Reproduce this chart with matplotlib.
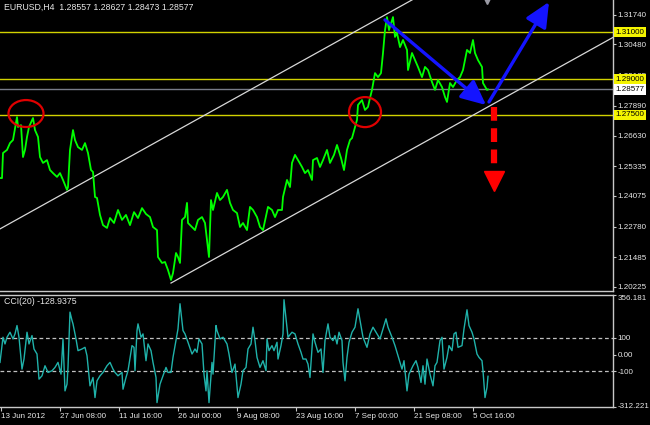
#!/usr/bin/env python3
"""
EURUSD H4 chart with price channel and CCI(20) panel, MetaTrader style
"""

import matplotlib
matplotlib.use('Agg')
import matplotlib.pyplot as plt
import numpy as np
from matplotlib.patches import Ellipse

plt.rcParams['font.family'] = ['Liberation Sans', 'DejaVu Sans']

# ---- data ----
price_bar = [0, 2, 3, 7, 10, 13, 17, 18, 21, 23, 25, 27, 29, 33, 35, 38, 40, 43, 47, 50,
             53, 57, 60, 63, 67, 68, 70, 73, 75, 78, 82, 85, 88, 91, 93, 95, 97, 100, 103, 107,
             110, 114, 118, 122, 126, 130, 134, 138, 142, 146, 150, 153, 157, 158, 162, 165, 168, 171, 173, 176,
             178, 180, 182, 185, 187, 188, 192, 195, 198, 202, 205, 207, 209, 211, 213, 217, 220, 223, 227, 230,
             233, 237, 240, 243, 247, 250, 253, 257, 260, 263, 268, 272, 275, 278, 282, 283, 287, 290, 292, 295,
             298, 302, 305, 308, 312, 313, 317, 320, 323, 327, 330, 334, 337, 341, 344, 347, 350, 352, 357, 358,
             362, 365, 368, 370, 372, 375, 378, 381, 383, 385, 387, 389, 393, 395, 397, 400, 403, 407, 408, 412,
             415, 418, 422, 425, 428, 432, 435, 438, 442, 445, 447, 450, 453, 457, 460, 463, 467, 470, 473, 475,
             478, 482, 483, 487, 488]
price_close = [1.2483, 1.2483, 1.2589, 1.2602, 1.2631, 1.2644, 1.2741, 1.2699, 1.2707, 1.2572,
               1.2602, 1.2657, 1.2699, 1.2737, 1.2686, 1.2657, 1.2572, 1.2547, 1.2559, 1.2517,
               1.2504, 1.2488, 1.2504, 1.2475, 1.2433, 1.2445, 1.2602, 1.2686, 1.2644, 1.2614,
               1.2602, 1.2631, 1.2589, 1.2517, 1.2509, 1.2403, 1.2399, 1.2327, 1.2284, 1.2272,
               1.2314, 1.2293, 1.2348, 1.2306, 1.2327, 1.2284, 1.2339, 1.2314, 1.2356, 1.2331,
               1.2318, 1.2276, 1.2263, 1.2149, 1.2124, 1.2128, 1.2094, 1.2052, 1.2081, 1.2166,
               1.2149, 1.2124, 1.2306, 1.2318, 1.2378, 1.2293, 1.2276, 1.2263, 1.2306, 1.2318,
               1.2293, 1.2221, 1.2149, 1.2390, 1.2348, 1.2420, 1.2390, 1.2403, 1.2433, 1.2378,
               1.2348, 1.2335, 1.2276, 1.2293, 1.2263, 1.2361, 1.2348, 1.2318, 1.2276, 1.2263,
               1.2361, 1.2348, 1.2318, 1.2348, 1.2348, 1.2403, 1.2475, 1.2445, 1.2547, 1.2581,
               1.2559, 1.2530, 1.2504, 1.2517, 1.2475, 1.2559, 1.2568, 1.2530, 1.2559, 1.2602,
               1.2547, 1.2581, 1.2623, 1.2568, 1.2517, 1.2602, 1.2644, 1.2652, 1.2729, 1.2792,
               1.2813, 1.2771, 1.2784, 1.2822, 1.2856, 1.2927, 1.2910, 1.2927, 1.3012, 1.3109,
               1.3164, 1.3109, 1.3164, 1.3080, 1.3097, 1.3037, 1.3067, 1.3025, 1.2940, 1.3012,
               1.2982, 1.2953, 1.2910, 1.2953, 1.2940, 1.2889, 1.2856, 1.2898, 1.2868, 1.2826,
               1.2805, 1.2885, 1.2868, 1.2898, 1.2910, 1.2940, 1.3025, 1.3012, 1.3067, 1.3012,
               1.2982, 1.2953, 1.2885, 1.2856, 1.28577]

cci_bar = [0, 3, 5, 7, 10, 13, 15, 17, 19, 22, 24, 27, 29, 32, 34, 37, 39, 42, 45, 48,
           52, 55, 58, 61, 63, 65, 67, 68, 70, 72, 73, 76, 78, 82, 85, 87, 90, 93, 95, 97,
           100, 103, 107, 110, 113, 115, 118, 122, 123, 126, 128, 132, 134, 135, 137, 138, 141, 143, 146, 148,
           151, 153, 156, 157, 160, 163, 166, 168, 171, 173, 176, 178, 180, 183, 185, 188, 192, 195, 197, 199,
           202, 204, 206, 207, 209, 212, 213, 216, 217, 220, 223, 227, 229, 232, 235, 238, 241, 243, 246, 248,
           251, 253, 255, 257, 260, 263, 266, 267, 269, 272, 274, 277, 278, 281, 283, 284, 287, 288, 292, 295,
           298, 301, 303, 306, 308, 310, 313, 315, 318, 321, 323, 325, 328, 330, 333, 335, 337, 339, 342, 343,
           345, 347, 349, 352, 355, 358, 361, 363, 367, 370, 373, 377, 380, 383, 386, 388, 392, 395, 398, 402,
           404, 406, 407, 409, 413, 416, 418, 421, 423, 425, 427, 430, 433, 435, 437, 440, 442, 444, 447, 449,
           452, 454, 456, 458, 462, 464, 467, 469, 472, 474, 477, 479, 482, 483, 485, 487, 488]
cci_value = [-46, 104, 64, 104, 134, 94, 124, 174, 104, -86, -26, 134, 64, 114, 34, 4, -146, -126, -66, -106,
             -96, -76, -46, -116, 94, -216, -176, -76, 254, 204, 184, 94, 24, 34, 44, -6, -186, -136, -256, -156,
             -126, -106, -66, -46, -86, -106, -126, -106, -206, -136, -96, 54, 44, -96, 144, 184, 104, 124, -36, 64,
             24, -46, -136, -286, -176, -126, -76, -106, -106, -16, 84, 154, 304, 144, 124, 74, 4, 34, 14, 94,
             64, -116, -216, -96, -286, -46, -116, 174, 144, 94, 104, 64, 4, -106, -56, -256, -176, -96, -76, 34,
             64, 164, 84, -16, -76, -36, -96, 94, 24, 54, 24, 74, -26, 54, 124, 328, 164, 104, 134, 124,
             64, 14, -26, -26, -56, -136, 124, 74, 14, 34, -106, 84, 184, 104, 84, 114, 64, 134, 84, -46,
             -156, -16, 74, 134, 164, 274, 174, 104, 44, 124, 164, 124, 94, 154, 214, 164, 104, 54, -6, -86,
             -36, -156, -216, -116, -66, -36, -76, -166, -66, -176, -26, -116, -186, -66, -46, 84, 104, -86, -16, 54,
             24, 124, 134, 44, 54, 154, 268, 174, 134, 94, 4, -16, -36, -96, -256, -196, -128.9375]

price_ticks = [1.31740, 1.30480, 1.29185, 1.27890, 1.26630, 1.25335, 1.24075, 1.22780, 1.21485, 1.20225]
cci_ticks = [356.181, 100, 0, -100, -312.221]
cci_tick_labels = ['356.181', '100', '0.00', '-100', '-312.221']
date_labels = ['13 Jun 2012', '27 Jun 08:00', '11 Jul 16:00', '26 Jul 00:00', '9 Aug 08:00',
               '23 Aug 16:00', '7 Sep 00:00', '21 Sep 08:00', '5 Oct 16:00']

levels = [1.31000, 1.29000, 1.27500]   # horizontal lines
bid = 1.28577

# channel anchors (bar, price)
chan_upper = ([0, 613], [1.2268, 1.3709])
chan_lower = ([171, 613], [1.2039, 1.3078])

# red circles: centre bar, centre price, width (bars), height (price)
circles = [(26, 1.2756, 35, 0.0114), (365, 1.2762, 32, 0.0127)]

# blue arrows: (tail, tip)
blue_arrows = [((385, 1.3152), (486, 1.2792)), ((489, 1.2805), (549, 1.3228))]
red_arrow = (494, 1.2784, 1.2517, 1.2471)  # bar, start, end of dashes, head

# ---- figure ----
W, H = 650, 425
fig = plt.figure(figsize=(6.5, 4.25), dpi=100)
fig.patch.set_facecolor('black')

ax = fig.add_axes([0, 1 - 291 / H, 613 / W, 291 / H])
ax2 = fig.add_axes([0, 1 - 407 / H, 613 / W, 112 / H])

frame = '#c8c8c8'
txt = '#e8e8e8'
fs = 5.8
for a in (ax, ax2):
    a.set_facecolor('black')
    a.set_xlim(0, 613)
    a.spines['left'].set_visible(False)
    for s in ('right', 'bottom', 'top'):
        a.spines[s].set_color(frame)
        a.spines[s].set_linewidth(1)
    a.yaxis.tick_right()
    a.tick_params(axis='y', colors=frame, labelcolor=txt, length=2.5, width=0.8,
                  pad=1, labelsize=fs)
ax.spines['top'].set_visible(False)

# main panel
ax.set_ylim(1.20053, 1.32362)
ax.set_xticks([])
ax.set_yticks(price_ticks)
ax.set_yticklabels([f'{t:.5f}' for t in price_ticks])

for lv in levels:
    ax.axhline(lv, color='#d2d200', lw=1, zorder=1)
ax.axhline(bid, color='#787c88', lw=1, zorder=1)

ax.plot(*chan_upper, color='#d8d8d8', lw=0.9, zorder=2)
ax.plot(*chan_lower, color='#d8d8d8', lw=0.9, zorder=2)

ax.plot(price_bar, price_close, color='#00ff00', lw=1.3, zorder=3)

for cx, cy, w, h in circles:
    ax.add_patch(Ellipse((cx, cy), w, h, fill=False, ec='#e00000', lw=1.6, zorder=4))

for tail, tip in blue_arrows:
    ax.annotate('', xy=tip, xytext=tail,
                arrowprops=dict(arrowstyle='-|>,head_length=0.75,head_width=0.35',
                                color='#1414ff', lw=2.4, mutation_scale=20,
                                shrinkA=0, shrinkB=0),
                annotation_clip=False, zorder=5)

rx, r0, r1, rh = red_arrow
ax.plot([rx, rx], [r0, r1], color='#ff0000', lw=4.5, ls=(0, (2.2, 1.2)),
        solid_capstyle='butt', zorder=5)
ax.plot(rx, rh, marker='v', markersize=15, color='#ff0000', zorder=5)

ax.plot(487, 1.3232, marker='v', markersize=4.5, color='#9a9aa4', clip_on=False, zorder=6)

# level boxes on the price scale
for lv in levels:
    ax.annotate(f'{lv:.5f}', xy=(1, lv), xycoords=('axes fraction', 'data'),
                xytext=(2, 0), textcoords='offset points', va='center', ha='left',
                fontsize=fs, color='black', annotation_clip=False,
                bbox=dict(boxstyle='square,pad=0.2', fc='#f4f400', ec='none'))
ax.annotate(f'{bid:.5f}', xy=(1, bid), xycoords=('axes fraction', 'data'),
            xytext=(2, 0), textcoords='offset points', va='center', ha='left',
            fontsize=fs, color='black', annotation_clip=False,
            bbox=dict(boxstyle='square,pad=0.2', fc='white', ec='none'))

ax.text(4 / 613, 1 - 7 / 291, 'EURUSD,H4  1.28557 1.28627 1.28473 1.28577',
        transform=ax.transAxes, color=txt, fontsize=6.3, va='center', ha='left')

# CCI panel
ax2.set_ylim(-312.221, 356.181)
ax2.axhline(100, color='#c0c0c0', lw=0.9, ls=(0, (3, 2.2)))
ax2.axhline(-100, color='#c0c0c0', lw=0.9, ls=(0, (3, 2.2)))
ax2.plot(cci_bar, cci_value, color='#20b2aa', lw=1.0)
ax2.set_yticks(cci_ticks)
ax2.set_yticklabels(cci_tick_labels)
lbls = ax2.get_yticklabels()
lbls[0].set_va('top')
lbls[-1].set_va('center')

ax2.set_xticks(np.arange(len(date_labels)) * 59 + 1)
ax2.set_xticklabels(date_labels, ha='left')
ax2.tick_params(axis='x', colors=frame, labelcolor=txt, length=3, width=0.8,
                pad=1.5, labelsize=fs)

ax2.text(4 / 613, 1 - 7 / 112, 'CCI(20) -128.9375', transform=ax2.transAxes,
         color=txt, fontsize=6.3, va='center', ha='left')

fig.savefig('out.png', dpi=100, facecolor='black')
